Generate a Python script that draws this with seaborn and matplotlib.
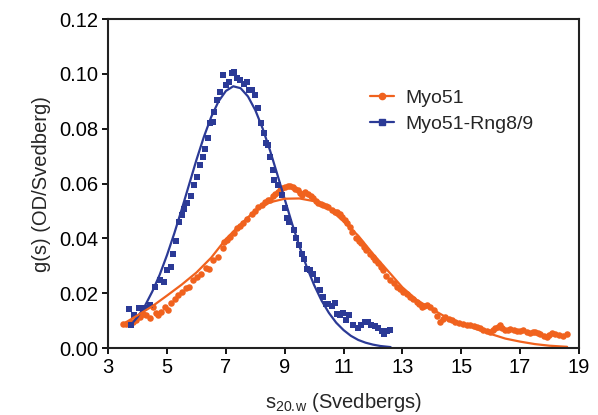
import numpy as np
import pandas as pd
import seaborn as sns
import matplotlib.pyplot as plt
from matplotlib.lines import Line2D

# Myo51 data points (s, g(s))
myo_x = [3.51, 3.62, 3.74, 3.85, 3.96, 4.07, 4.19, 4.30, 4.41, 4.53, 4.62, 4.70, 4.81, 4.93,
         5.04, 5.15, 5.26, 5.38, 5.51, 5.63, 5.74, 5.89, 6.03, 6.17, 6.31, 6.42, 6.57, 6.74,
         6.91, 6.92, 7.03, 7.14, 7.26, 7.37, 7.48, 7.59, 7.73, 7.88, 8.0, 8.1, 8.22, 8.33,
         8.42, 8.5, 8.6, 8.67, 8.76, 8.84, 8.92, 9.0, 9.1, 9.18, 9.27, 9.35, 9.44, 9.52,
         9.6, 9.69, 9.8, 9.88, 9.97, 10.05, 10.14, 10.22, 10.31, 10.4, 10.48, 10.6, 10.7,
         10.78, 10.87, 10.95, 11.04, 11.12, 11.21, 11.3, 11.44, 11.52, 11.61, 11.7, 11.78,
         11.9, 12.0, 12.08, 12.17, 12.26, 12.35, 12.46, 12.58, 12.7, 12.81, 12.92, 13.03,
         13.15, 13.26, 13.37, 13.49, 13.58, 13.66, 13.75, 13.83, 13.95, 14.06, 14.18, 14.29,
         14.38, 14.46, 14.57, 14.68, 14.8, 14.91, 15.05, 15.19, 15.3, 15.42, 15.53, 15.64,
         15.75, 15.87, 15.98, 16.07, 16.15, 16.24, 16.32, 16.4, 16.49, 16.58, 16.66, 16.78,
         16.89, 17.0, 17.11, 17.22, 17.34, 17.43, 17.51, 17.6, 17.68, 17.8, 17.91, 18.0,
         18.08, 18.2, 18.31, 18.45, 18.59]
myo_y = [0.0090, 0.0088, 0.0092, 0.0094, 0.0103, 0.0112, 0.0126, 0.0120, 0.0110, 0.0151,
         0.0128, 0.0120, 0.0133, 0.0151, 0.0139, 0.0163, 0.0181, 0.0194, 0.0206, 0.0218,
         0.0224, 0.0248, 0.0260, 0.0270, 0.0294, 0.0287, 0.0321, 0.0333, 0.0364, 0.0388,
         0.0395, 0.0406, 0.0420, 0.0437, 0.0445, 0.0455, 0.0470, 0.0491, 0.0500, 0.0515,
         0.0522, 0.0533, 0.0540, 0.0542, 0.0555, 0.0564, 0.0570, 0.0576, 0.0585, 0.0588,
         0.0590, 0.0590, 0.0586, 0.0582, 0.0575, 0.0566, 0.0560, 0.0570, 0.0564, 0.0555,
         0.0546, 0.0538, 0.0528, 0.0525, 0.0521, 0.0518, 0.0515, 0.0505, 0.0497, 0.0495,
         0.0491, 0.0480, 0.0467, 0.0455, 0.0443, 0.0425, 0.0400, 0.0392, 0.0382, 0.0370,
         0.0358, 0.0345, 0.0333, 0.0320, 0.0309, 0.0295, 0.0284, 0.0265, 0.0248, 0.0236,
         0.0224, 0.0215, 0.0206, 0.0196, 0.0188, 0.0178, 0.0170, 0.0160, 0.0149, 0.0152,
         0.0158, 0.0150, 0.0140, 0.0118, 0.0097, 0.0108, 0.0115, 0.0108, 0.0103, 0.0096,
         0.0091, 0.0088, 0.0085, 0.0084, 0.0082, 0.0078, 0.0072, 0.0066, 0.0063, 0.0060,
         0.0066, 0.0072, 0.0078, 0.0084, 0.0075, 0.0066, 0.0068, 0.0069, 0.0066, 0.0064,
         0.0063, 0.0066, 0.0060, 0.0054, 0.0058, 0.0060, 0.0055, 0.0052, 0.0046, 0.0042,
         0.0048, 0.0054, 0.0050, 0.0048, 0.0044, 0.0052]

# Myo51 fit curve
myo_fit_x = [3.5, 4.0, 4.5, 5.0, 5.5, 6.0, 6.5, 7.0, 7.5, 8.0, 8.5, 9.0, 9.5, 10.0, 10.5,
             11.0, 11.5, 12.0, 12.5, 13.0, 13.5, 14.0, 14.5, 15.0, 15.5, 16.0, 16.5, 17.0,
             17.5, 18.0, 18.6]
myo_fit_y = [0.0088, 0.0120, 0.0153, 0.0192, 0.0232, 0.0276, 0.0330, 0.0398, 0.0452, 0.0502,
             0.0532, 0.0545, 0.0546, 0.0536, 0.0510, 0.0462, 0.0410, 0.0344, 0.0283, 0.0222,
             0.0175, 0.0143, 0.0112, 0.0090, 0.0071, 0.0052, 0.0035, 0.0024, 0.0015, 0.0009,
             0.0005]

# Myo51-Rng8/9 data points
rng_x = [3.71, 3.77, 3.86, 4.06, 4.2, 4.43, 4.6, 4.77, 4.88, 5.01, 5.13, 5.2, 5.31, 5.41,
         5.5, 5.59, 5.67, 5.82, 5.9, 6.01, 6.12, 6.22, 6.29, 6.39, 6.46, 6.55, 6.61, 6.71,
         6.8, 6.9, 7.0, 7.09, 7.2, 7.28, 7.37, 7.48, 7.6, 7.71, 7.79, 7.88, 7.99, 8.1, 8.2,
         8.28, 8.37, 8.44, 8.5, 8.59, 8.65, 8.78, 8.9, 9.0, 9.07, 9.16, 9.3, 9.39, 9.47,
         9.58, 9.66, 9.75, 9.86, 9.97, 10.09, 10.2, 10.29, 10.4, 10.47, 10.6, 10.71, 10.79,
         10.88, 10.99, 11.1, 11.19, 11.33, 11.5, 11.61, 11.73, 11.84, 11.95, 12.07, 12.18,
         12.3, 12.38, 12.47, 12.58]
rng_y = [0.0142, 0.0084, 0.0120, 0.0146, 0.0146, 0.0157, 0.0223, 0.0248, 0.0240, 0.0284,
         0.0297, 0.0343, 0.0390, 0.0460, 0.0485, 0.0506, 0.0528, 0.0554, 0.0594, 0.0625,
         0.0667, 0.0698, 0.0728, 0.0765, 0.0820, 0.0823, 0.0862, 0.0904, 0.0935, 0.0996,
         0.0959, 0.0971, 0.1002, 0.1008, 0.0986, 0.0977, 0.0962, 0.0971, 0.0941, 0.0941,
         0.0923, 0.0874, 0.0820, 0.0783, 0.0747, 0.0740, 0.0698, 0.0649, 0.0613, 0.0594,
         0.0560, 0.0510, 0.0473, 0.0460, 0.0430, 0.0400, 0.0376, 0.0345, 0.0327, 0.0290,
         0.0284, 0.0272, 0.0248, 0.0212, 0.0187, 0.0160, 0.0160, 0.0153, 0.0163, 0.0126,
         0.0120, 0.0127, 0.0102, 0.0120, 0.0084, 0.0072, 0.0084, 0.0096, 0.0095, 0.0084,
         0.0080, 0.0072, 0.0062, 0.0050, 0.0063, 0.0066]

# Myo51-Rng8/9 fit curve
rng_fit_x = [3.75, 4.0, 4.25, 4.5, 4.75, 5.0, 5.25, 5.5, 5.75, 6.0, 6.25, 6.5, 6.75, 7.0,
             7.25, 7.5, 7.75, 8.0, 8.25, 8.5, 8.75, 9.0, 9.25, 9.5, 9.75, 10.0, 10.25, 10.5,
             10.75, 11.0, 11.25, 11.5, 11.75, 12.0, 12.25, 12.6]
rng_fit_y = [0.0082, 0.0114, 0.0155, 0.0207, 0.0268, 0.0340, 0.0420, 0.0507, 0.0597, 0.0687,
             0.0770, 0.0843, 0.0900, 0.0938, 0.0955, 0.0948, 0.0918, 0.0868, 0.0801, 0.0721,
             0.0633, 0.0543, 0.0454, 0.0371, 0.0296, 0.0230, 0.0174, 0.0129, 0.0093, 0.0066,
             0.0045, 0.0030, 0.0020, 0.0013, 0.0008, 0.0004]

orange = "#F0621E"
blue = "#2B3A96"

sns.set_style("ticks")
plt.rcParams['font.family'] = ['Liberation Sans', 'DejaVu Sans']
plt.rcParams['mathtext.fontset'] = 'custom'
plt.rcParams['mathtext.rm'] = 'Liberation Sans'

fig = plt.figure(figsize=(5.98, 4.15), dpi=100)
ax = fig.add_axes([0.181, 0.161, 0.787, 0.793])

sns.lineplot(x=rng_fit_x, y=rng_fit_y, color=blue, lw=1.6, ax=ax)
sns.lineplot(x=myo_fit_x, y=myo_fit_y, color=orange, lw=1.6, ax=ax)
sns.scatterplot(x=myo_x, y=myo_y, color=orange, marker='o', s=22, linewidth=0, ax=ax)
sns.scatterplot(x=rng_x, y=rng_y, color=blue, marker='s', s=24, linewidth=0, ax=ax)

ax.set_xlim(3, 19)
ax.set_ylim(0, 0.12)
ax.set_xticks(range(3, 20, 2))
ax.set_yticks([0, 0.02, 0.04, 0.06, 0.08, 0.10, 0.12])
ax.set_yticklabels(["0.00", "0.02", "0.04", "0.06", "0.08", "0.10", "0.12"])
ax.tick_params(direction='out', length=4, width=1.3, labelsize=14.5, colors='black', pad=3)
for s in ax.spines.values():
    s.set_linewidth(1.5)
    s.set_color('#222222')
    s.set_visible(True)

ax.set_xlabel(r"s$_{\mathrm{20.\!w}}$ (Svedbergs)", fontsize=14.5, labelpad=10)
ax.set_ylabel("g(s) (OD/Svedberg)", fontsize=14.5, labelpad=6)

handles = [Line2D([], [], color=orange, marker='o', markersize=4.5, lw=1.6),
           Line2D([], [], color=blue, marker='s', markersize=4.5, lw=1.6)]
ax.legend(handles, ["Myo51", "Myo51-Rng8/9"], loc='upper left', bbox_to_anchor=(0.52, 0.84),
          frameon=False, fontsize=14, handlelength=1.2, handletextpad=0.6, labelspacing=0.45)

fig.savefig("out.png", dpi=100)
